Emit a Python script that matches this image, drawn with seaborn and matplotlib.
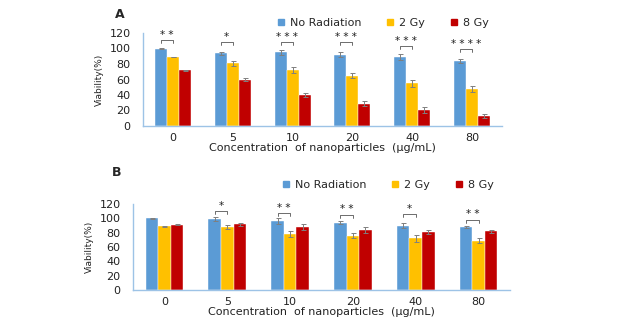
import numpy as np
import pandas as pd
import matplotlib
matplotlib.use("Agg")
import matplotlib.pyplot as plt
import seaborn as sns
from matplotlib.lines import Line2D

sns.set_theme(style="white")
plt.rcParams['font.family'] = ['DejaVu Sans']

concentrations = ["0", "5", "10", "20", "40", "80"]
groups = ["No Radiation", "2 Gy", "8 Gy"]
colors = ["#5B9BD5", "#FFC000", "#C00000"]

# Panel A
a_none = [100, 94, 95, 92, 89, 84]
a_2gy = [89, 81, 72, 65, 55, 48]
a_8gy = [72, 60, 40, 29, 21, 13]
a_none_err = [0.5, 2, 3, 3, 4, 2.5]
a_2gy_err = [0.5, 3, 4, 3, 5, 4]
a_8gy_err = [0.5, 2.5, 3, 3, 4, 3]
a_stars = ["**", "*", "***", "***", "***", "****"]
a_bracket = [111, 108, 108, 108, 103, 99]

# Panel B
b_none = [100, 99, 96, 94, 90, 88]
b_2gy = [89, 88, 78, 76, 72, 69]
b_8gy = [91, 92, 88, 84, 81, 82]
b_none_err = [0.5, 3, 4, 2, 3, 2]
b_2gy_err = [0.5, 3, 4, 3, 5, 4]
b_8gy_err = [0.5, 2, 4, 4, 3, 2]
b_stars = ["", "*", "**", "**", "*", "**"]
b_bracket = [0, 110, 107, 105, 106, 98]

yticks = [0, 20, 40, 60, 80, 100, 120]
xlabel = "Concentration  of nanoparticles  (\u03bcg/mL)"
ylabel = "Viability(%)"

spine_color = "#9DC3E6"

fig = plt.figure(figsize=(6.25, 3.28), dpi=100)
axA = fig.add_axes([143/625, 1-126/328, (502-143)/625, (126-33)/328])
axB = fig.add_axes([133/625, 1-290/328, (510-133)/625, (290-204)/328])


def draw(ax, none, g2, g8, e_none, e2, e8, stars, brackets, legend_y, legend_x):
    df = pd.DataFrame({
        "conc": concentrations * 3,
        "group": [groups[0]] * 6 + [groups[1]] * 6 + [groups[2]] * 6,
        "value": list(none) + list(g2) + list(g8),
    })
    errs = list(e_none) + list(e2) + list(e8)
    sns.barplot(data=df, x="conc", y="value", hue="group", order=concentrations,
                hue_order=groups, palette=colors, width=0.6, errorbar=None,
                ax=ax, legend=False, saturation=1, edgecolor="white", linewidth=0.3)
    patches = [p for p in ax.patches]
    for p, v, e in zip(patches, df["value"], errs):
        cx = p.get_x() + p.get_width() / 2
        ax.errorbar(cx, v, yerr=e, color="#7F7F7F", capsize=1.8, elinewidth=0.7,
                    capthick=0.7, fmt="none")
    for i, (s, h) in enumerate(zip(stars, brackets)):
        if not s:
            continue
        x1 = patches[i].get_x() + patches[i].get_width() / 2
        x2 = patches[6 + i].get_x() + patches[6 + i].get_width() / 2
        ax.plot([x1, x1, x2, x2], [h - 4, h, h, h - 4], color="#555555", lw=0.6)
        ax.text((x1 + x2) / 2, h + 0.5, " ".join(s), ha="center", va="bottom",
                fontsize=7.5, color="#222222")
    ax.set_ylim(0, 120)
    ax.set_xlim(-0.5, 5.5)
    ax.set_yticks(yticks)
    ax.set_yticklabels([str(t) for t in yticks], fontsize=8, color="#222222")
    ax.set_xticks(range(len(concentrations)))
    ax.set_xticklabels(concentrations, fontsize=8, color="#222222")
    ax.set_xlabel(xlabel, fontsize=8, color="#222222", labelpad=0)
    ax.set_ylabel(ylabel, fontsize=6.5, color="#222222", labelpad=4)
    ax.tick_params(axis="y", length=0, pad=9)
    ax.tick_params(axis="x", length=0, pad=5)
    for side in ["top", "right"]:
        ax.spines[side].set_visible(False)
    for side in ["left", "bottom"]:
        ax.spines[side].set_color(spine_color)
        ax.spines[side].set_linewidth(1.0)
    handles = [Line2D([0], [0], marker="s", color="none", markerfacecolor=c,
                      markeredgecolor=c, markersize=5) for c in colors]
    fig.legend(handles, groups, loc="center left", ncol=3, frameon=False,
               bbox_to_anchor=(legend_x, legend_y), fontsize=8, handlelength=0.8,
               handletextpad=0.4, columnspacing=2.2, borderaxespad=0)


draw(axA, a_none, a_2gy, a_8gy, a_none_err, a_2gy_err, a_8gy_err, a_stars, a_bracket,
     1 - 23/328, 272/625)
draw(axB, b_none, b_2gy, b_8gy, b_none_err, b_2gy_err, b_8gy_err, b_stars, b_bracket,
     1 - 185/328, 277/625)

fig.text(120/625, 1 - 14/328, "A", fontsize=9, fontweight="bold", ha="center", va="center")
fig.text(117/625, 1 - 172/328, "B", fontsize=9, fontweight="bold", ha="center", va="center")

fig.savefig("out.png", dpi=100)
